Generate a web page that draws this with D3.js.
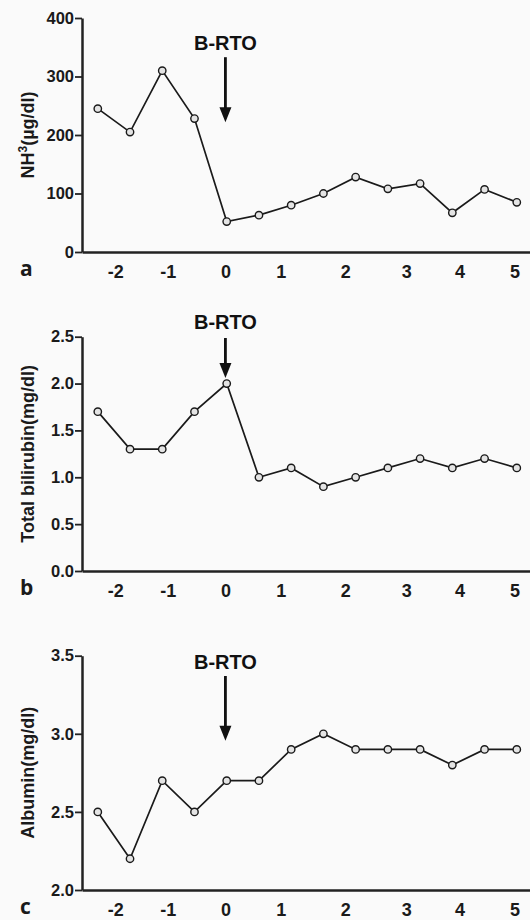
<!DOCTYPE html>
<html>
<head>
<meta charset="utf-8">
<style>
  body { margin: 0; background: #fafafa; }
  svg { display: block; }
  .ylab { font-family: "Liberation Sans", Arial, sans-serif; font-weight: bold; font-size: 18px; fill: #1a1a1a; }
  .tick text { font-family: "Liberation Sans", Arial, sans-serif; font-weight: bold; fill: #1a1a1a; }
  .panel-letter { font-family: "Open Sans", sans-serif; font-weight: bold; font-size: 21px; fill: #1a1a1a; }
  .brto { font-family: "Liberation Sans", Arial, sans-serif; font-weight: bold; font-size: 20px; fill: #111; }
</style>
</head>
<body>
<script src="https://cdn.jsdelivr.net/npm/d3@7"></script>
<script>
var visit = [0, 1, 2, 3, 4, 5, 6, 7, 8, 9, 10, 11, 12, 13];
var xTickLabels = ["-2", "-1", "0", "1", "2", "3", "4", "5"];
var xTickAt = [0.54, 2.17, 3.96, 5.68, 7.68, 9.57, 11.22, 12.93];

// series values
var nh3 = [245, 205, 310, 228, 52, 63, 80, 100, 128, 108, 117, 67, 107, 85];
var bilirubin = [1.7, 1.3, 1.3, 1.7, 2.0, 1.0, 1.1, 0.9, 1.0, 1.1, 1.2, 1.1, 1.2, 1.1];
var albumin = [2.5, 2.2, 2.7, 2.5, 2.7, 2.7, 2.9, 3.0, 2.9, 2.9, 2.9, 2.8, 2.9, 2.9];

// y ticks per panel
var nh3Ticks = [0, 100, 200, 300, 400];
var biliTicks = [0, 0.5, 1.0, 1.5, 2.0, 2.5];
var albTicks = [2.0, 2.5, 3.0, 3.5];

var W = 530, H = 920;
var svg = d3.select("body").append("svg").attr("width", W).attr("height", H);

// x scale shared by all three panels
var x = d3.scaleLinear().domain([-0.49, 13.41]).range([82, 530]);

var panels = [
  {letter: "a", values: nh3, ticks: nh3Ticks, fmt: d3.format("d"), top: 18, bottom: 252,
   label: "NH", sup: "3", unit: "(\u00b5g/dl)", brto: {text: 357, from: 333, to: 222}},
  {letter: "b", values: bilirubin, ticks: biliTicks, fmt: d3.format(".1f"), top: 336.7, bottom: 571,
   label: "Total bilirubin(mg/dl)", brto: {text: 2.66, from: 2.486, to: 2.06}},
  {letter: "c", values: albumin, ticks: albTicks, fmt: d3.format(".1f"), top: 655.7, bottom: 890,
   label: "Albumin(mg/dl)", brto: {text: 3.46, from: 3.37, to: 2.956}}
];

panels.forEach(function(p) {
  var y = d3.scaleLinear()
    .domain([p.ticks[0], p.ticks[p.ticks.length - 1]])
    .range([p.bottom, p.top]);

  var g = svg.append("g");

  // y axis
  var yAxis = g.append("g")
    .attr("transform", "translate(82,0)")
    .call(d3.axisLeft(y).tickValues(p.ticks).tickFormat(p.fmt).tickSize(7).tickSizeOuter(0).tickPadding(1));
  yAxis.select(".domain").attr("stroke", "#222").attr("stroke-width", 2.5);
  yAxis.selectAll(".tick line").attr("stroke", "#222").attr("stroke-width", 1.8);
  yAxis.selectAll(".tick text").style("font-size", "16.5px");

  // x axis
  var xAxis = g.append("g")
    .attr("transform", "translate(0," + p.bottom + ")")
    .call(d3.axisBottom(x).tickValues(xTickAt)
      .tickFormat(function(d, i) { return xTickLabels[i]; })
      .tickSize(0).tickPadding(13));
  xAxis.select(".domain").attr("stroke", "#222").attr("stroke-width", 2.5);
  xAxis.selectAll(".tick text").style("font-size", "18px");

  // panel letter
  g.append("text")
    .attr("class", "panel-letter")
    .attr("x", 20)
    .attr("y", p.bottom + 24)
    .text(p.letter);

  // y label
  var yl = g.append("text")
    .attr("class", "ylab")
    .attr("text-anchor", "middle")
    .attr("transform", "translate(34," + ((p.top + p.bottom) / 2) + ") rotate(-90)");
  yl.append("tspan").text(p.label);
  if (p.sup) {
    yl.append("tspan").attr("dy", -7).style("font-size", "12px").text(p.sup);
    yl.append("tspan").attr("dy", 7).text(p.unit);
  }

  // B-RTO annotation at the "0" label
  var ax = x(xTickAt[2]);
  g.append("text")
    .attr("class", "brto")
    .attr("x", ax)
    .attr("y", y(p.brto.text))
    .attr("dy", "0.36em")
    .attr("text-anchor", "middle")
    .text("B-RTO");
  var tipY = y(p.brto.to);
  g.append("line")
    .attr("x1", ax).attr("x2", ax)
    .attr("y1", y(p.brto.from)).attr("y2", tipY - 12)
    .attr("stroke", "#111").attr("stroke-width", 2.8);
  g.append("path")
    .attr("d", "M" + (ax - 6) + "," + (tipY - 15) + "L" + (ax + 6) + "," + (tipY - 15) + "L" + ax + "," + tipY + "Z")
    .attr("fill", "#111");

  // line and markers
  var pts = visit.map(function(v, i) { return {v: v, val: p.values[i]}; });
  g.append("path")
    .datum(pts)
    .attr("fill", "none")
    .attr("stroke", "#1a1a1a")
    .attr("stroke-width", 1.7)
    .attr("d", d3.line().x(function(d) { return x(d.v); }).y(function(d) { return y(d.val); }));
  g.selectAll("circle.pt")
    .data(pts)
    .enter()
    .append("circle")
    .attr("class", "pt")
    .attr("cx", function(d) { return x(d.v); })
    .attr("cy", function(d) { return y(d.val); })
    .attr("r", 3.7)
    .attr("fill", "#e4e4e4")
    .attr("stroke", "#1a1a1a")
    .attr("stroke-width", 1.4);
});
</script>
</body>
</html>
